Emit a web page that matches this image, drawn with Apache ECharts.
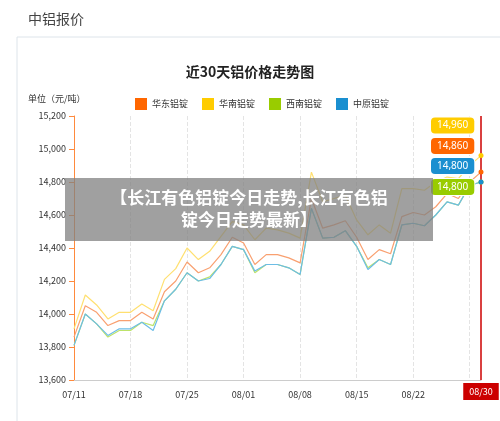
<!DOCTYPE html>
<html><head><meta charset="utf-8">
<script src="https://cdn.jsdelivr.net/npm/echarts@6/dist/echarts.min.js"></script>
<style>html,body{margin:0;padding:0;background:#fff}#c{width:500px;height:421px}</style>
</head><body><div id="c"></div>
<script>
const dates = ['07/11','07/12','07/13','07/14','07/15','07/18','07/19','07/20','07/21','07/22','07/25','07/26','07/27','07/28','07/29','08/01','08/02','08/03','08/04','08/05','08/08','08/09','08/10','08/11','08/12','08/15','08/16','08/17','08/18','08/19','08/22','08/23','08/24','08/25','08/26','08/29','08/30'];
const huadong = [13860,14050,14010,13930,13960,13960,14010,13970,14135,14200,14315,14250,14280,14360,14465,14430,14300,14360,14360,14340,14310,14700,14520,14540,14565,14465,14330,14390,14365,14590,14615,14600,14650,14730,14700,14800,14860];
const huanan = [13910,14115,14055,13970,14010,14010,14060,14020,14210,14275,14400,14330,14380,14470,14560,14540,14450,14520,14510,14490,14460,14860,14680,14700,14720,14570,14480,14540,14490,14760,14760,14750,14800,14830,14820,14900,14960];
const xinan = [13810,14000,13940,13860,13900,13900,13950,13930,14080,14150,14250,14200,14225,14300,14410,14390,14250,14300,14300,14280,14240,14640,14460,14465,14505,14410,14280,14330,14300,14540,14550,14535,14600,14680,14660,14780,14800];
const zhongyuan = [13810,14000,13940,13870,13910,13910,13950,13900,14080,14150,14250,14200,14215,14300,14410,14390,14260,14300,14300,14280,14240,14640,14460,14465,14505,14410,14270,14330,14300,14540,14550,14535,14600,14680,14660,14780,14800];
const names = ['华东铝锭','华南铝锭','西南铝锭','中原铝锭'];
const colors = ['#ff6600','#ffcc00','#99cc00','#1a8fd0'];
const lineColors = ['#f9a070','#ffe070','#bde36a','#6cbde6'];
const allData = [huadong, huanan, xinan, zhongyuan];
const lastDate = dates[dates.length-1];
const chart = echarts.init(document.getElementById('c'));
const series = allData.map((d,i)=>({
  name:names[i], type:'line', data:d, symbol:'circle', symbolSize:5,
  showSymbol:false, lineStyle:{width:1.2,color:lineColors[i]}, itemStyle:{color:colors[i]},
  z: i===1?1:2,
  endLabel:{show:true, offset:[-58,[-26,-30,5,-16][i]], formatter:p=>echarts.format.addCommas(p.value),
    backgroundColor:colors[i], color:'#fff', fontSize:10, padding:[3,6], borderRadius:4,
    borderColor:'#fff', borderWidth:1, fontFamily:'Noto Sans'},
  markPoint:{symbol:'circle', symbolSize:5, label:{show:false}, itemStyle:{color:colors[i]},
    data:[{coord:[dates.length-1, d[d.length-1]]}]},
  markLine: i===0 ? {symbol:'none', silent:true, lineStyle:{color:'#cc0000', width:1.5, type:'solid'},
    label:{show:true, position:'start', formatter:lastDate, backgroundColor:'#cc0000', color:'#fff', fontSize:9, padding:[4,6], distance:3},
    data:[{xAxis:lastDate}]} : undefined
}));
chart.setOption({
  animation:false,
  textStyle:{fontFamily:'Noto Sans CJK SC'},
  title:{text:'近30天铝价格走势图', left:'center', top:60, textStyle:{fontSize:14, fontWeight:'bold', color:'#222'}},
  legend:{top:93, left:130, itemWidth:12, itemHeight:12, itemGap:14, icon:'rect', textStyle:{fontSize:9, color:'#333'}},
  grid:{left:74, right:19, top:116, bottom:41},
  color:colors,
  xAxis:{type:'category', data:dates, boundaryGap:false,
    axisLine:{lineStyle:{color:'#ccc'}}, axisTick:{show:false},
    axisLabel:{interval:(i)=>i%5===0 && i<35, fontSize:9, color:'#333', margin:10},
    splitLine:{show:true, interval:(i)=>i%5===0, lineStyle:{type:'dashed', color:'#e4e4e4'}}},
  yAxis:{type:'value', min:13600, max:15200, interval:200,
    axisLine:{show:true, lineStyle:{color:'#ff8a3d'}}, axisTick:{show:true, lineStyle:{color:'#ff8a3d'}},
    axisLabel:{formatter:v=>echarts.format.addCommas(v), fontSize:9, color:'#333'},
    splitLine:{show:false}},
  series:series,
  graphic:[
    {type:'text', left:28, top:12, style:{text:'中铝报价', fontSize:14, fill:'#444', fontFamily:'Noto Sans CJK SC'}},
    {type:'rect', shape:{x:17,y:37,width:490,height:390}, style:{fill:'none', stroke:'#dde4ea', lineWidth:1}},
    {type:'text', left:28, top:94, style:{text:'单位（元/吨）', fontSize:9, fill:'#333', fontFamily:'Noto Sans CJK SC'}},
    {type:'rect', shape:{x:65,y:178,width:368,height:63}, style:{fill:'rgba(128,128,128,0.75)'}, z:100},
    {type:'text', x:249, y:209, z:101, style:{text:'【长江有色铝锭今日走势,长江有色铝\n锭今日走势最新】', fill:'#fff', fontSize:17, fontWeight:'bold', align:'center', verticalAlign:'middle', lineHeight:22, fontFamily:'Noto Sans CJK SC'}}
  ]
});
</script></body></html>
